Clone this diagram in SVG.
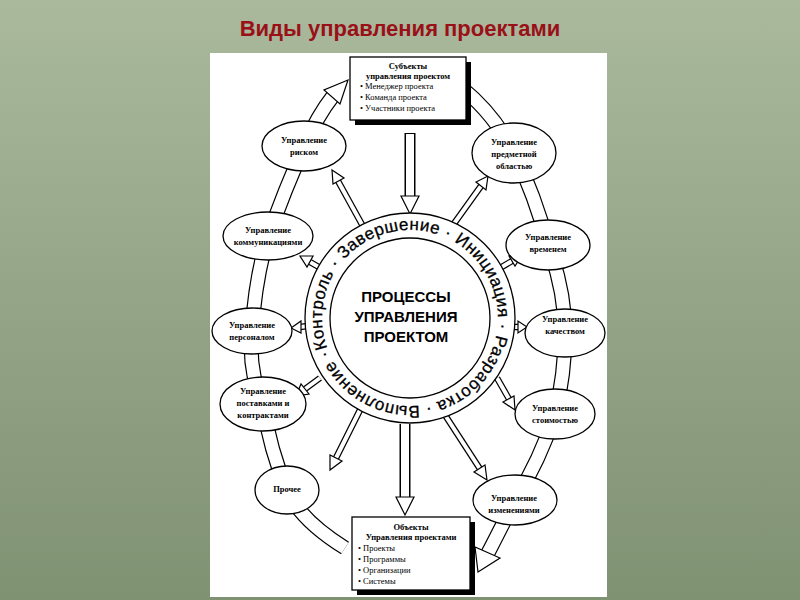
<svg xmlns="http://www.w3.org/2000/svg" width="800" height="600" viewBox="0 0 800 600">
<defs>
<linearGradient id="bg" x1="0" y1="0" x2="0" y2="1">
<stop offset="0" stop-color="#aab99c"/><stop offset="1" stop-color="#7f9272"/>
</linearGradient>
<path id="ring" d="M327.3,348.1 A88,88 0 1 1 492.7,287.9 A88,88 0 1 1 327.3,348.1"/>
</defs>
<style>
.n{fill:#fff;stroke:#000;stroke-width:1.3}
.t{font-family:"Liberation Serif",serif;font-size:8.5px;font-weight:bold;text-anchor:middle}
.b{font-family:"Liberation Serif",serif;font-size:8.5px}
.sb{fill:none;stroke:#000;stroke-width:15;stroke-linecap:butt}
.sw{fill:none;stroke:#fff;stroke-width:12.6}
.ab{stroke:#000;stroke-width:6.5}
.aw{stroke:#fff;stroke-width:4}
.bb{stroke:#000;stroke-width:11}
.bw{stroke:#fff;stroke-width:8}
.h{fill:#fff;stroke:#000;stroke-width:1.2}
</style>
<rect width="800" height="600" fill="url(#bg)"/>
<text x="400" y="36" font-family="Liberation Sans,sans-serif" font-size="22" font-weight="bold" fill="#9a1018" text-anchor="middle">Виды управления проектами</text>
<rect x="210" y="53" width="397" height="544" fill="#fff"/>
<g id="connectors">
<path class="sb" d="M345,548 Q300,520 287,490 Q270,450 263,404 Q248,370 252,331 Q255,280 268,236 Q285,190 304,146 Q318,115 333,96"/>
<path class="sw" d="M345,548 Q300,520 287,490 Q270,450 263,404 Q248,370 252,331 Q255,280 268,236 Q285,190 304,146 Q318,115 333,96"/>
<polygon class="h" points="348,80 340,104 324,90"/>
<path class="sb" d="M462,88 Q495,115 514,153 Q535,195 548,245 Q565,290 565,333 Q565,375 555,414 Q540,460 515,500 Q500,530 487,555"/>
<path class="sw" d="M462,88 Q495,115 514,153 Q535,195 548,245 Q565,290 565,333 Q565,375 555,414 Q540,460 515,500 Q500,530 487,555"/>
<polygon class="h" points="478,572 475,547 500,558"/>
<line class="bb" x1="410" y1="133" x2="410" y2="197"/><line class="bw" x1="410" y1="134" x2="410" y2="198"/>
<polygon class="h" points="401,196 419,196 410,214"/>
<line class="bb" x1="405" y1="424" x2="405" y2="498"/><line class="bw" x1="405" y1="423" x2="405" y2="499"/>
<polygon class="h" points="396,497 414,497 405,515"/>
<line class="ab" x1="365" y1="230" x2="338" y2="181"/><line class="aw" x1="365" y1="230" x2="338" y2="181"/>
<polygon class="h" points="332,170 344,178 333,184"/>
<line class="ab" x1="448" y1="232" x2="481" y2="186"/><line class="aw" x1="448" y1="232" x2="481" y2="186"/>
<polygon class="h" points="488,176 486,190 476,182"/>
<line class="ab" x1="324" y1="270" x2="310" y2="262"/><line class="aw" x1="324" y1="270" x2="310" y2="262"/>
<polygon class="h" points="300,256 313,256 307,267"/>
<line class="ab" x1="500" y1="268" x2="512" y2="261"/><line class="aw" x1="500" y1="268" x2="512" y2="261"/>
<polygon class="h" points="522,255 515,266 509,256"/>
<line class="ab" x1="308" y1="326" x2="300" y2="327"/><line class="aw" x1="308" y1="326" x2="300" y2="327"/>
<polygon class="h" points="291,328 301,321 301,333"/>
<line class="ab" x1="512" y1="327" x2="518" y2="327"/><line class="aw" x1="512" y1="327" x2="518" y2="327"/>
<polygon class="h" points="527,327 518,321 518,333"/>
<line class="ab" x1="320" y1="378" x2="305" y2="389"/><line class="aw" x1="320" y1="378" x2="305" y2="389"/>
<polygon class="h" points="296,396 301,384 309,394"/>
<line class="ab" x1="497" y1="378" x2="509" y2="399"/><line class="aw" x1="497" y1="378" x2="509" y2="399"/>
<polygon class="h" points="515,410 503,402 514,396"/>
<line class="ab" x1="360" y1="410" x2="336" y2="458"/><line class="aw" x1="360" y1="410" x2="336" y2="458"/>
<polygon class="h" points="330,470 330,455 342,461"/>
<line class="ab" x1="445" y1="415" x2="480" y2="469"/><line class="aw" x1="445" y1="415" x2="480" y2="469"/>
<polygon class="h" points="487,480 474,472 485,465"/>
</g>
<g id="center">
<circle cx="410" cy="318" r="105" class="n" stroke-width="1.6"/>
<circle cx="410" cy="318" r="80" class="n"/>
<text font-family="Liberation Sans,sans-serif" font-size="17" fill="#000" stroke="#000" stroke-width="0.3"><textPath href="#ring" textLength="550" lengthAdjust="spacing">Контроль · Завершение · Инициация · Разработка · Выполнение ·</textPath></text>
<text font-family="Liberation Sans,sans-serif" font-size="15" font-weight="bold" text-anchor="middle"><tspan x="406" y="302">ПРОЦЕССЫ</tspan><tspan x="406" y="322">УПРАВЛЕНИЯ</tspan><tspan x="406" y="342">ПРОЕКТОМ</tspan></text>
</g>
<g id="subjects">
<rect x="355" y="62" width="116" height="63" fill="#000"/>
<rect x="350" y="57" width="116" height="63" class="n"/>
<text class="t" x="408" y="69">Субъекты</text><text class="t" x="408" y="79">управления проектом</text>
<text class="b" x="360" y="89">•   Менеджер проекта</text><text class="b" x="360" y="100">•   Команда проекта</text><text class="b" x="360" y="111">•   Участники проекта</text>
</g>
<g id="objects">
<rect x="357" y="522" width="118" height="73" fill="#000"/>
<rect x="352" y="517" width="118" height="73" class="n"/>
<text class="t" x="411" y="530">Объекты</text><text class="t" x="411" y="540">Управления проектами</text>
<text class="b" x="358" y="551">•   Проекты</text><text class="b" x="358" y="562">•   Программы</text><text class="b" x="358" y="573">•   Организации</text><text class="b" x="358" y="584">•   Системы</text>
</g>
<g id="risk"><ellipse class="n" cx="304" cy="146" rx="42" ry="25"/><text class="t" x="304" y="143">Управление</text><text class="t" x="304" y="155">риском</text></g>
<g id="scope"><ellipse class="n" cx="514" cy="153" rx="42" ry="30"/><text class="t" x="514" y="145">Управление</text><text class="t" x="514" y="157">предметной</text><text class="t" x="514" y="169">областью</text></g>
<g id="comm"><ellipse class="n" cx="268" cy="236" rx="45" ry="24"/><text class="t" x="268" y="233">Управление</text><text class="t" x="268" y="245">коммуникациями</text></g>
<g id="time"><ellipse class="n" cx="548" cy="245" rx="42" ry="25"/><text class="t" x="548" y="240">Управление</text><text class="t" x="548" y="252">временем</text></g>
<g id="hr"><ellipse class="n" cx="252" cy="331" rx="40" ry="23"/><text class="t" x="252" y="328">Управление</text><text class="t" x="252" y="340">персоналом</text></g>
<g id="quality"><ellipse class="n" cx="565" cy="333" rx="40" ry="24"/><text class="t" x="565" y="322">Управление</text><text class="t" x="565" y="334">качеством</text></g>
<g id="supply"><ellipse class="n" cx="263" cy="404" rx="43" ry="27"/><text class="t" x="263" y="394">Управление</text><text class="t" x="263" y="406">поставками и</text><text class="t" x="263" y="418">контрактами</text></g>
<g id="cost"><ellipse class="n" cx="555" cy="414" rx="40" ry="25"/><text class="t" x="555" y="411">Управление</text><text class="t" x="555" y="423">стоимостью</text></g>
<g id="other"><ellipse class="n" cx="287" cy="490" rx="32" ry="24"/><text class="t" x="287" y="492">Прочее</text></g>
<g id="change"><ellipse class="n" cx="515" cy="500" rx="42" ry="25"/><text class="t" x="514" y="501">Управление</text><text class="t" x="514" y="513">изменениями</text></g>
</svg>
